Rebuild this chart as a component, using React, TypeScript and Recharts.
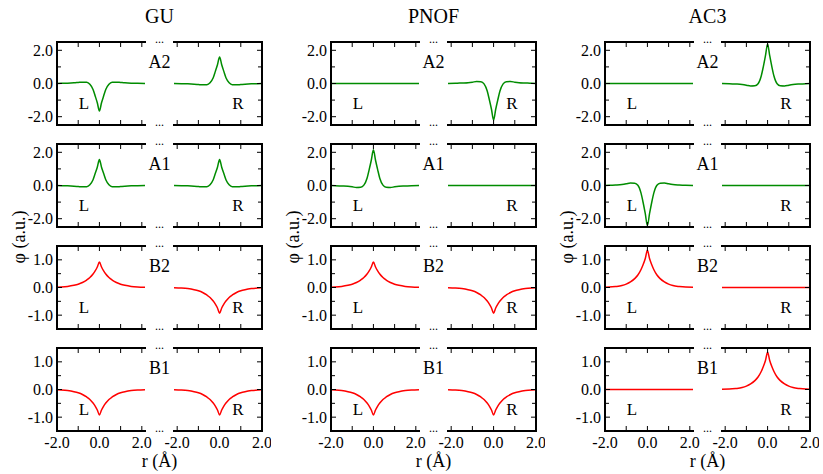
import React from 'react';
import { LineChart, Line, XAxis, YAxis } from 'recharts';

// sample positions r (Å), shared by every panel
const xs = [-2.15, -1.8, -1.5, -1.2, -1.0, -0.8, -0.6, -0.45, -0.3, -0.2, -0.1, 0, 0.1, 0.2, 0.3, 0.45, 0.6, 0.8, 1.0, 1.2, 1.5, 1.8, 2.15];

const zeros = [0, 0, 0, 0, 0, 0, 0, 0, 0, 0, 0, 0, 0, 0, 0, 0, 0, 0, 0, 0, 0, 0, 0];

// GU
const guA2L = [0, 0.01, 0.02, 0.04, 0.06, 0.08, 0.07, -0.05, -0.36, -0.75, -1.16, -1.65, -1.16, -0.75, -0.36, -0.05, 0.07, 0.08, 0.06, 0.04, 0.02, 0.01, 0];
const guA2R = [0, -0.01, -0.02, -0.04, -0.06, -0.08, -0.07, 0.05, 0.35, 0.73, 1.13, 1.6, 1.13, 0.73, 0.35, 0.05, -0.07, -0.08, -0.06, -0.04, -0.02, -0.01, 0];
const guA1L = [0, -0.01, -0.02, -0.04, -0.06, -0.08, -0.07, 0.05, 0.35, 0.72, 1.1, 1.56, 1.1, 0.72, 0.35, 0.05, -0.07, -0.08, -0.06, -0.04, -0.02, -0.01, 0];
const guA1R = [0, -0.01, -0.02, -0.04, -0.06, -0.08, -0.07, 0.05, 0.35, 0.72, 1.1, 1.56, 1.1, 0.72, 0.35, 0.05, -0.07, -0.08, -0.06, -0.04, -0.02, -0.01, 0];
const guB2L = [0.01, 0.02, 0.04, 0.08, 0.12, 0.18, 0.27, 0.36, 0.49, 0.6, 0.74, 0.92, 0.74, 0.6, 0.49, 0.36, 0.27, 0.18, 0.12, 0.08, 0.04, 0.02, 0.01];
const guB2R = [-0.01, -0.02, -0.04, -0.08, -0.12, -0.18, -0.27, -0.36, -0.49, -0.6, -0.74, -0.93, -0.74, -0.6, -0.49, -0.36, -0.27, -0.18, -0.12, -0.08, -0.04, -0.02, -0.01];
const guB1L = [-0.01, -0.02, -0.04, -0.08, -0.12, -0.18, -0.27, -0.36, -0.49, -0.6, -0.74, -0.92, -0.74, -0.6, -0.49, -0.36, -0.27, -0.18, -0.12, -0.08, -0.04, -0.02, -0.01];
const guB1R = [-0.01, -0.02, -0.04, -0.08, -0.12, -0.18, -0.27, -0.36, -0.49, -0.6, -0.74, -0.92, -0.74, -0.6, -0.49, -0.36, -0.27, -0.18, -0.12, -0.08, -0.04, -0.02, -0.01];

// PNOF
const pnofA2L = zeros;
const pnofA2R = [0, 0.01, 0.03, 0.05, 0.08, 0.12, 0.11, -0.02, -0.45, -0.98, -1.55, -2.2, -1.55, -0.98, -0.45, -0.02, 0.11, 0.12, 0.08, 0.05, 0.03, 0.01, 0];
const pnofA1L = [0, -0.01, -0.03, -0.05, -0.08, -0.12, -0.11, 0.02, 0.44, 0.96, 1.52, 2.15, 1.52, 0.96, 0.44, 0.02, -0.11, -0.12, -0.08, -0.05, -0.03, -0.01, 0];
const pnofA1R = zeros;
const pnofB2L = [0.01, 0.02, 0.04, 0.08, 0.12, 0.18, 0.27, 0.36, 0.49, 0.6, 0.74, 0.92, 0.74, 0.6, 0.49, 0.36, 0.27, 0.18, 0.12, 0.08, 0.04, 0.02, 0.01];
const pnofB2R = [-0.01, -0.02, -0.04, -0.08, -0.12, -0.18, -0.27, -0.36, -0.49, -0.6, -0.74, -0.93, -0.74, -0.6, -0.49, -0.36, -0.27, -0.18, -0.12, -0.08, -0.04, -0.02, -0.01];
const pnofB1L = [-0.01, -0.02, -0.04, -0.08, -0.12, -0.18, -0.27, -0.36, -0.49, -0.6, -0.74, -0.92, -0.74, -0.6, -0.49, -0.36, -0.27, -0.18, -0.12, -0.08, -0.04, -0.02, -0.01];
const pnofB1R = [-0.01, -0.02, -0.04, -0.08, -0.12, -0.18, -0.27, -0.36, -0.49, -0.6, -0.74, -0.92, -0.74, -0.6, -0.49, -0.36, -0.27, -0.18, -0.12, -0.08, -0.04, -0.02, -0.01];

// AC3
const ac3A2L = zeros;
const ac3A2R = [0, -0.01, -0.03, -0.06, -0.1, -0.15, -0.14, -0.02, 0.45, 1.02, 1.68, 2.38, 1.68, 1.02, 0.45, -0.02, -0.14, -0.15, -0.1, -0.06, -0.03, -0.01, 0];
const ac3A1L = [0, 0.01, 0.03, 0.06, 0.1, 0.15, 0.14, 0.02, -0.46, -1.04, -1.7, -2.42, -1.7, -1.04, -0.46, 0.02, 0.14, 0.15, 0.1, 0.06, 0.03, 0.01, 0];
const ac3A1R = zeros;
const ac3B2L = [0.01, 0.015, 0.035, 0.07, 0.12, 0.2, 0.32, 0.45, 0.65, 0.83, 1.05, 1.35, 1.05, 0.83, 0.65, 0.45, 0.32, 0.2, 0.12, 0.07, 0.035, 0.015, 0.01];
const ac3B2R = zeros;
const ac3B1L = zeros;
const ac3B1R = [0.01, 0.015, 0.035, 0.07, 0.12, 0.2, 0.32, 0.45, 0.65, 0.83, 1.05, 1.35, 1.05, 0.83, 0.65, 0.45, 0.32, 0.2, 0.12, 0.07, 0.035, 0.015, 0.01];

const colTitles = ['GU', 'PNOF', 'AC3'];
const rowLabels = ['A2', 'A1', 'B2', 'B1'];
const series = [
  [[guA2L, guA2R], [guA1L, guA1R], [guB2L, guB2R], [guB1L, guB1R]],
  [[pnofA2L, pnofA2R], [pnofA1L, pnofA1R], [pnofB2L, pnofB2R], [pnofB1L, pnofB1R]],
  [[ac3A2L, ac3A2R], [ac3A1L, ac3A1R], [ac3B2L, ac3B2R], [ac3B1L, ac3B1R]],
];

const xTicks = [-2, -1, 0, 1, 2];
const xTickLabels = [-2, 0, 2];
const aTicks = [-2, -1, 0, 1, 2];
const aTickLabels = [-2, 0, 2];
const bTicks = [-1, -0.5, 0, 0.5, 1];
const bTickLabels = [-1, 0, 1];

const GREEN = '#008c00';
const RED = '#ff0000';
const FONT = '"Liberation Serif", "Times New Roman", serif';

const colLefts = [57, 331, 605];
const rowTops = [42, 144, 246, 348];
const PW = 88;
const PH = 83;
const GAP = 29;
const M = { top: 8, right: 8, bottom: 30, left: 40 };

const axisLine = { stroke: '#000', strokeWidth: 2, strokeLinecap: 'square' as const };

function Panel({ side, left, top, values, row, showX }: any) {
  const isA = row < 2;
  const data = xs.map((x, i) => ({ x, y: values[i] }));
  const xDomain = side === 'L' ? [-2, 2.15] : [-2.15, 2];
  const yDomain = isA ? [-2.5, 2.5] : [-1.5, 1.5];
  const yTicks = isA ? aTicks : bTicks;
  const yLabels = isA ? aTickLabels : bTickLabels;

  const bottomTick = (p: any) => (
    <g>
      <line x1={p.x} x2={p.x} y1={p.y} y2={p.y - 5} stroke="#000" strokeWidth={1} />
      {showX && xTickLabels.includes(p.payload.value) ? (
        <text x={p.x} y={p.y + 17} textAnchor="middle" fontSize={16} fontFamily={FONT} fill="#000">
          {p.payload.value.toFixed(1)}
        </text>
      ) : null}
    </g>
  );
  const topTick = (p: any) => (
    <line x1={p.x} x2={p.x} y1={p.y} y2={p.y + 5} stroke="#000" strokeWidth={1} />
  );
  const yTick = (p: any) => {
    const v = p.payload.value;
    const major = yLabels.includes(v);
    const len = major ? 5 : 4;
    const dir = side === 'L' ? 1 : -1;
    return (
      <g>
        <line x1={p.x} x2={p.x + dir * len} y1={p.y} y2={p.y} stroke="#000" strokeWidth={1} />
        {side === 'L' && major ? (
          <text x={p.x - 4} y={p.y + 5.5} textAnchor="end" fontSize={16} fontFamily={FONT} fill="#000">
            {v.toFixed(1)}
          </text>
        ) : null}
      </g>
    );
  };

  // axes are 1px thick in layout, so offset the wrapper so the plot area lands on (left, top)
  const wrapLeft = side === 'L' ? left - M.left - 1 : left - M.left;
  return (
    <div style={{ position: 'absolute', left: wrapLeft, top: top - M.top - 1 }}>
      <LineChart width={PW + M.left + M.right + 1} height={PH + M.top + M.bottom + 2} data={data} margin={M}>
        <XAxis xAxisId="b" dataKey="x" type="number" domain={xDomain} ticks={xTicks} interval={0}
          allowDataOverflow height={1} tickSize={0} tickMargin={0} tickLine={false}
          axisLine={axisLine} tick={bottomTick} />
        <XAxis xAxisId="t" orientation="top" dataKey="x" type="number" domain={xDomain} ticks={xTicks} interval={0}
          allowDataOverflow height={1} tickSize={0} tickMargin={0} tickLine={false}
          axisLine={axisLine} tick={topTick} />
        <YAxis yAxisId="y" orientation={side === 'L' ? 'left' : 'right'} type="number" domain={yDomain}
          ticks={yTicks} interval={0} allowDataOverflow width={1} tickSize={0} tickMargin={0}
          tickLine={false} axisLine={axisLine} tick={yTick} />
        <Line xAxisId="b" yAxisId="y" type="monotone" dataKey="y" stroke={row < 2 ? GREEN : RED}
          strokeWidth={1.5} dot={false} isAnimationActive={false} />
      </LineChart>
    </div>
  );
}

export default function App() {
  const panels: React.ReactNode[] = [];
  const labels: React.ReactNode[] = [];
  colLefts.forEach((cl, c) => {
    const mid = cl + PW + GAP / 2;
    rowTops.forEach((rt, r) => {
      panels.push(
        <Panel key={`${c}-${r}-L`} side="L" left={cl} top={rt} values={series[c][r][0]} row={r} showX={r === 3} />,
        <Panel key={`${c}-${r}-R`} side="R" left={cl + PW + GAP} top={rt} values={series[c][r][1]} row={r} showX={r === 3} />,
      );
      labels.push(
        <text key={`d1-${c}-${r}`} x={mid} y={rt + 1} textAnchor="middle" fontSize={12}>...</text>,
        <text key={`d2-${c}-${r}`} x={mid} y={rt + PH + 1} textAnchor="middle" fontSize={12}>...</text>,
        <text key={`rl-${c}-${r}`} x={mid} y={rt + 26} textAnchor="middle" fontSize={18}>{rowLabels[r]}</text>,
        <text key={`L-${c}-${r}`} x={cl + 27} y={rt + 67} textAnchor="middle" fontSize={17}>L</text>,
        <text key={`R-${c}-${r}`} x={cl + 181} y={rt + 67} textAnchor="middle" fontSize={17}>R</text>,
      );
    });
    labels.push(
      <text key={`t-${c}`} x={mid} y={23} textAnchor="middle" fontSize={20}>{colTitles[c]}</text>,
      <text key={`xl-${c}`} x={mid} y={467} textAnchor="middle" fontSize={18}>r (Å)</text>,
      <text key={`yl-${c}`} x={cl - 38} y={237} textAnchor="middle" fontSize={18}
        transform={`rotate(-90 ${cl - 38} 237)`} dy={6}>φ (a.u.)</text>,
    );
  });

  return (
    <div style={{ position: 'absolute', left: 0, top: 0, width: 823, height: 474, background: '#fff' }}>
      {panels}
      <svg width={823} height={474} style={{ position: 'absolute', left: 0, top: 0, pointerEvents: 'none' }}
        fontFamily={FONT} fill="#000">
        {labels}
      </svg>
    </div>
  );
}
